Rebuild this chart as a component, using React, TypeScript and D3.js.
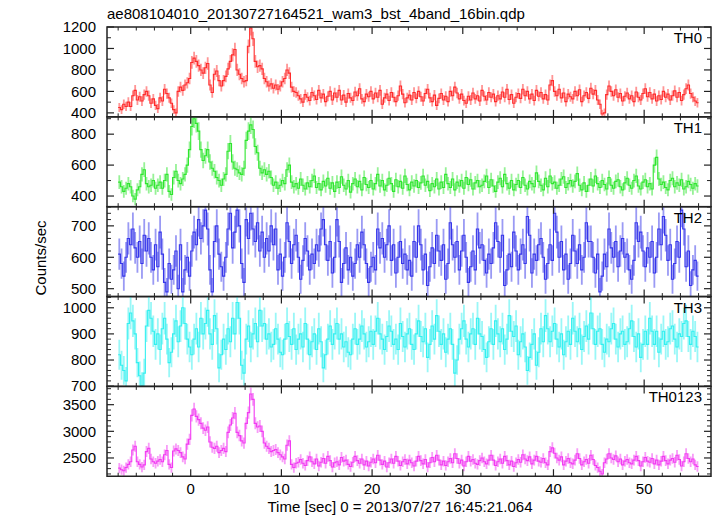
import React from "react";
import * as d3 from "d3";

const TITLE = "ae808104010_20130727164521_wam3_bst_4band_16bin.qdp";
const XLABEL = "Time [sec] 0 = 2013/07/27 16:45:21.064";
const YLABEL = "Counts/sec";

// 16 x 1/64 s = 0.25 s bins
const BIN_START = -7.875;
const BIN_WIDTH = 0.25;

const th0 = [
  450, 430, 480, 460, 500, 460, 560, 610, 520, 550, 510, 570, 600, 560, 490, 530,
  470, 440, 540, 510, 620, 580, 540, 490, 430, 400, 600, 640, 610, 660, 680, 720,
  870, 910, 880, 840, 800, 770, 820, 860, 660, 590, 760, 790, 700, 650, 700, 740,
  810, 880, 940, 990, 800, 760, 720, 690, 700, 1020, 1190, 1090, 880, 830, 840, 810,
  720, 690, 650, 670, 630, 660, 620, 650, 690, 720, 800, 770, 640, 600, 590, 560,
  530, 500, 570, 545, 515, 590, 560, 525, 610, 540, 575, 505, 555, 600, 520, 585,
  545, 610, 520, 565, 500, 580, 540, 515, 595, 560, 625, 530, 505, 575, 550, 600,
  530, 585, 545, 610, 480, 540, 575, 515, 590, 545, 505, 560, 650, 575, 495, 540,
  565, 520, 590, 535, 600, 550, 510, 580, 620, 540, 505, 565, 470, 535, 580, 520,
  555, 505, 600, 560, 640, 585, 530, 575, 515, 490, 555, 520, 585, 530, 560, 510,
  610, 555, 520, 590, 545, 575, 505, 560, 530, 595, 545, 620, 525, 570, 490, 545,
  580, 535, 620, 560, 600, 530, 575, 515, 610, 555, 590, 530, 570, 520, 660, 700,
  600, 560, 620, 540, 585, 505, 575, 550, 530, 600, 560, 615, 505, 560, 590, 535,
  630, 575, 610, 520, 480, 390, 400, 570, 650, 600, 560, 615, 545, 580, 510, 555,
  585, 530, 560, 505, 595, 545, 520, 580, 625, 550, 590, 530, 575, 510, 560, 525,
  600, 545, 575, 520, 560, 605, 545, 590, 515, 570, 625, 660, 580, 545, 510, 495,
];
const th1 = [
  490, 460, 430, 450, 480, 460, 400, 380, 440, 460, 540, 570, 480, 460, 470, 500,
  450, 470, 490, 450, 500, 540, 430, 410, 520, 560, 500, 480, 510, 540, 600, 700,
  850, 900, 870, 820, 700, 630, 660, 700, 620, 580, 560, 520, 500, 470, 510, 540,
  690, 740, 620, 580, 570, 550, 540, 580, 760, 820, 860, 830, 720, 680, 580, 550,
  570, 540, 560, 520, 470, 490, 450, 470, 500, 480, 570, 600, 490, 460, 480, 450,
  510, 470, 445, 485, 460, 500, 530, 455, 480, 440, 495, 465, 515, 450, 485, 430,
  490, 455, 525, 470, 445, 500, 425, 480, 510, 460, 495, 440, 520, 475, 455, 500,
  445, 480, 540, 465, 500, 440, 470, 515, 480, 430, 505, 460, 495, 450, 530, 475,
  440, 490, 465, 500, 455, 485, 530, 470, 495, 435, 480, 460, 510, 445, 490, 455,
  540, 480, 455, 510, 440, 490, 465, 500, 450, 520, 475, 505, 445, 485, 500, 460,
  470, 495, 530, 455, 505, 465, 430, 490, 515, 460, 540, 480, 450, 500, 440, 475,
  500, 455, 520, 470, 445, 495, 480, 460, 550, 495, 470, 440, 515, 460, 530, 480,
  490, 450, 470, 510, 525, 455, 480, 500, 465, 495, 545, 470, 440, 485, 430, 470,
  510, 465, 530, 480, 455, 500, 475, 445, 520, 470, 450, 495, 505, 460, 440, 485,
  515, 470, 450, 500, 530, 465, 445, 490, 505, 460, 480, 445, 600, 650, 510, 475,
  490, 455, 440, 500, 515, 460, 485, 470, 505, 445, 460, 495, 475, 450, 480, 465,
];
const th2 = [
  610, 580, 540, 600, 660, 640, 690, 630, 600, 650, 580, 670, 620, 660, 600, 560,
  640, 570, 680, 610, 520, 490, 580, 530, 560, 620, 500, 640, 490, 560, 600, 540,
  620, 680, 640, 720, 660, 700, 750, 690, 560, 490, 650, 700, 610, 570, 540, 600,
  690, 740, 630, 680, 750, 700, 580, 520, 720, 660, 740, 690, 650, 710, 620, 680,
  600, 660, 620, 700, 640, 690, 560, 610, 540, 600, 710, 650, 580, 640, 670, 600,
  530, 590, 660, 620, 560, 610, 580, 640, 620, 690, 720, 640, 590, 650, 550, 600,
  720, 650, 520, 580, 630, 560, 600, 540, 580, 640, 600, 680, 640, 580, 520, 570,
  600, 560, 690, 630, 660, 600, 640, 700, 590, 640, 550, 600, 650, 580, 610, 560,
  590, 540, 650, 600, 700, 640, 560, 610, 510, 570, 630, 580, 670, 620, 590, 640,
  530, 580, 710, 640, 600, 650, 560, 620, 670, 600, 520, 570, 620, 560, 690, 630,
  640, 590, 550, 610, 580, 630, 710, 650, 600, 670, 510, 560, 610, 570, 680, 620,
  560, 610, 640, 580, 730, 670, 550, 610, 590, 640, 660, 600, 530, 580, 640, 590,
  740, 680, 600, 650, 560, 610, 530, 580, 670, 620, 580, 640, 560, 600, 710, 650,
  650, 600, 550, 610, 490, 540, 610, 570, 690, 630, 600, 650, 570, 620, 660, 600,
  610, 560, 530, 590, 710, 650, 680, 620, 570, 630, 600, 650, 550, 600, 690, 640,
  730, 670, 590, 640, 530, 580, 650, 600, 750, 690, 570, 620, 510, 560, 590, 540,
];
const th3 = [
  820, 780, 760, 720, 940, 980, 950, 900, 790, 740, 700, 750, 930, 990, 960, 910,
  860, 900, 840, 920, 960, 880, 790, 830, 900, 950, 870, 930, 1000, 940, 880, 850,
  820, 880, 920, 850, 960, 900, 940, 990, 900, 860, 970, 920, 770, 820, 880, 840,
  920, 870, 960, 900, 1020, 960, 780, 750, 880, 930, 850, 900, 940, 870, 990, 930,
  940, 880, 900, 850, 860, 920, 880, 830, 820, 880, 940, 890, 860, 920, 840, 880,
  900, 850, 940, 880, 820, 870, 900, 840, 920, 870, 770, 820, 880, 930, 860, 900,
  940, 880, 900, 850, 870, 830, 820, 880, 920, 860, 880, 930, 900, 850, 870, 910,
  860, 910, 960, 900, 880, 840, 890, 930, 910, 860, 880, 840, 940, 890, 850, 900,
  920, 860, 840, 900, 950, 890, 870, 920, 810, 860, 930, 880, 970, 910, 860, 900,
  830, 880, 920, 860, 750, 800, 880, 920, 950, 880, 850, 900, 920, 860, 960, 900,
  890, 840, 810, 870, 920, 860, 950, 900, 870, 920, 840, 880, 970, 910, 890, 930,
  820, 870, 900, 850, 760, 810, 860, 900, 780, 830, 920, 870, 970, 920, 870, 910,
  940, 880, 850, 900, 820, 870, 910, 860, 960, 910, 870, 920, 840, 890, 930, 880,
  980, 920, 860, 910, 920, 860, 830, 880, 870, 920, 940, 880, 850, 900, 910, 860,
  870, 920, 950, 890, 850, 900, 810, 860, 910, 860, 960, 910, 860, 910, 830, 880,
  910, 860, 870, 920, 930, 880, 850, 900, 890, 940, 950, 890, 860, 910, 890, 850,
];
const th0123 = [
  2310, 2280, 2260, 2320, 2380, 2430, 2650, 2720, 2430, 2380, 2330, 2370, 2620, 2680, 2480, 2430,
  2400, 2440, 2470, 2430, 2560, 2640, 2380, 2320, 2630, 2670, 2640, 2600, 2520, 2480, 2760, 2850,
  3300, 3420, 3280, 3220, 3150, 3060, 3020, 3080, 2800, 2700, 2680, 2720, 2600, 2640, 2680, 2620,
  2980, 3120, 3250, 3340, 2980, 2920, 2820, 2780, 3150, 3350, 3700, 3600, 3150, 3080, 3100, 3000,
  2780, 2720, 2680, 2620, 2640, 2660, 2600, 2560, 2520, 2480, 2740, 2820, 2380, 2320, 2400, 2420,
  2470, 2400, 2360, 2450, 2520, 2430, 2390, 2480, 2350, 2420, 2490, 2400, 2530, 2450, 2330, 2410,
  2430, 2370, 2510, 2440, 2460, 2380, 2340, 2420, 2530, 2450, 2400, 2480, 2370, 2440, 2350, 2420,
  2480, 2410, 2550, 2460, 2380, 2440, 2330, 2410, 2480, 2400, 2530, 2440, 2360, 2430, 2470, 2390,
  2460, 2410, 2350, 2440, 2530, 2450, 2390, 2470, 2330, 2410, 2510, 2430, 2550, 2460, 2370, 2440,
  2360, 2430, 2490, 2410, 2580, 2490, 2400, 2460, 2350, 2430, 2530, 2440, 2470, 2400, 2380, 2450,
  2500, 2430, 2390, 2460, 2550, 2460, 2360, 2430, 2480, 2400, 2530, 2450, 2370, 2440, 2340, 2410,
  2470, 2420, 2560, 2480, 2450, 2520, 2390, 2460, 2530, 2440, 2420, 2490, 2410, 2370, 2620, 2690,
  2590, 2500, 2460, 2520, 2370, 2440, 2490, 2410, 2390, 2460, 2580, 2490, 2370, 2430, 2470, 2400,
  2550, 2470, 2360, 2320, 2250, 2200, 2410, 2480, 2580, 2500, 2470, 2540, 2430, 2480, 2370, 2440,
  2470, 2410, 2390, 2460, 2530, 2450, 2350, 2430, 2510, 2440, 2420, 2490, 2390, 2460, 2370, 2440,
  2530, 2450, 2390, 2460, 2490, 2420, 2550, 2470, 2350, 2430, 2580, 2490, 2430, 2480, 2370, 2340,
];

const panelNames = ["TH0", "TH1", "TH2", "TH3", "TH0123"];
const panelSeries = [th0, th1, th2, th3, th0123];
const panelColors = ["#ff2b2b", "#2ee62e", "#3535ea", "#33f0f0", "#f23af2"];
const yDomains: [number, number][] = [
  [363, 1200],
  [331, 912],
  [475, 761],
  [699, 1043],
  [2157, 3843],
];
const yMajorTicks = [
  [400, 600, 800, 1000, 1200],
  [400, 600, 800],
  [500, 600, 700],
  [700, 800, 900, 1000],
  [2500, 3000, 3500],
];
const yMinorStep = [100, 100, 20, 20, 100];
const xMajorTicks = [0, 10, 20, 30, 40, 50];
const xMinorStep = 2;
const xDomain: [number, number] = [-9.23, 57.37];

const W = 717;
const H = 516;
const L = 107;
const R = 711;
const TOP = 27;
const PH = 89.85;
const FONT = "'Liberation Sans', Arial, Helvetica, sans-serif";
const FRAME = "#222";

// Poisson error of a count rate in a bin
const rateError = (v: number) => Math.sqrt(v * BIN_WIDTH) / BIN_WIDTH;

export default function App() {
  const x = d3.scaleLinear().domain(xDomain).range([L, R]);
  const xMinor = d3.range(-8, 57, xMinorStep).filter((t) => !xMajorTicks.includes(t));

  return (
    <svg
      width={W}
      height={H}
      style={{ position: "absolute", left: 0, top: 0, background: "#fff" }}
      fontFamily={FONT}
    >
      <rect x={0} y={0} width={W} height={H} fill="#fff" />
      <defs>
        {panelNames.map((n, k) => (
          <clipPath id={`clip${k}`} key={n}>
            <rect x={L} y={TOP + k * PH} width={R - L} height={PH} />
          </clipPath>
        ))}
      </defs>
      <text x={L} y={19} fontSize={15} fill="#000">
        {TITLE}
      </text>
      {panelNames.map((name, k) => {
        const top = TOP + k * PH;
        const bottom = top + PH;
        const dom = yDomains[k];
        const y = d3.scaleLinear().domain(dom).range([bottom, top]);
        const vals = panelSeries[k];
        const pts = vals.map((v, i) => ({ t: BIN_START + i * BIN_WIDTH, v }));
        const edges = pts.map((p) => ({ t: p.t - BIN_WIDTH / 2, v: p.v }));
        edges.push({ t: pts[pts.length - 1].t + BIN_WIDTH / 2, v: pts[pts.length - 1].v });
        const line = d3
          .line<{ t: number; v: number }>()
          .x((d) => x(d.t))
          .y((d) => y(d.v))
          .curve(d3.curveStepAfter);
        const color = panelColors[k];
        const minorY = d3
          .range(Math.ceil(dom[0] / yMinorStep[k]) * yMinorStep[k], dom[1] + 0.001, yMinorStep[k])
          .filter((v) => !yMajorTicks[k].includes(v));
        return (
          <g key={name}>
            <g clipPath={`url(#clip${k})`}>
              {pts.map((p, i) => {
                const e = rateError(p.v);
                return (
                  <line
                    key={i}
                    x1={x(p.t)}
                    x2={x(p.t)}
                    y1={y(p.v - e)}
                    y2={y(p.v + e)}
                    stroke={color}
                    strokeOpacity={0.5}
                    strokeWidth={1.8}
                  />
                );
              })}
              <path d={line(edges) || ""} fill="none" stroke={color} strokeWidth={1.1} />
            </g>
            {yMajorTicks[k].map((v) => (
              <g key={`ym${v}`}>
                <line x1={L} x2={L + 7} y1={y(v)} y2={y(v)} stroke={FRAME} strokeWidth={1.2} />
                <line x1={R} x2={R - 7} y1={y(v)} y2={y(v)} stroke={FRAME} strokeWidth={1.2} />
                <text x={96} y={y(v)} dy="0.35em" textAnchor="end" fontSize={15} fill="#000">
                  {v}
                </text>
              </g>
            ))}
            {minorY.map((v) => (
              <g key={`yn${v}`}>
                <line x1={L} x2={L + 4} y1={y(v)} y2={y(v)} stroke={FRAME} strokeWidth={1} />
                <line x1={R} x2={R - 4} y1={y(v)} y2={y(v)} stroke={FRAME} strokeWidth={1} />
              </g>
            ))}
            {xMajorTicks.map((t) => (
              <g key={`xm${t}`}>
                <line x1={x(t)} x2={x(t)} y1={top} y2={top + 7} stroke={FRAME} strokeWidth={1.2} />
                <line x1={x(t)} x2={x(t)} y1={bottom} y2={bottom - 7} stroke={FRAME} strokeWidth={1.2} />
              </g>
            ))}
            {xMinor.map((t) => (
              <g key={`xn${t}`}>
                <line x1={x(t)} x2={x(t)} y1={top} y2={top + 3.5} stroke={FRAME} strokeWidth={1} />
                <line x1={x(t)} x2={x(t)} y1={bottom} y2={bottom - 3.5} stroke={FRAME} strokeWidth={1} />
              </g>
            ))}
            <rect x={L} y={top} width={R - L} height={PH} fill="none" stroke={FRAME} strokeWidth={1.5} />
            <text x={702} y={top + 16} textAnchor="end" fontSize={15} fill="#000">
              {name}
            </text>
          </g>
        );
      })}
      {xMajorTicks.map((t) => (
        <text key={`xl${t}`} x={x(t)} y={493.5} textAnchor="middle" fontSize={15} fill="#000">
          {t}
        </text>
      ))}
      <text x={400} y={511.5} textAnchor="middle" fontSize={15} fill="#000">
        {XLABEL}
      </text>
      <text transform={`translate(46,258) rotate(-90)`} textAnchor="middle" fontSize={15} fill="#000">
        {YLABEL}
      </text>
    </svg>
  );
}
